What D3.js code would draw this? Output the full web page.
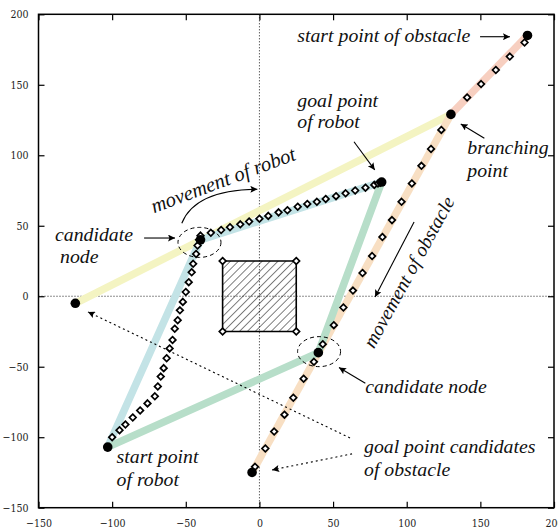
<!DOCTYPE html>
<html>
<head>
<meta charset="utf-8">
<script src="https://cdn.jsdelivr.net/npm/d3@7"></script>
<style>
  body { margin: 0; background: #fff; }
  .tick text { font-family: "DejaVu Serif Condensed", "DejaVu Serif", serif; font-size: 10.5px; fill: #222; }
  .note { font-family: "Liberation Serif", "Times New Roman", serif; font-style: italic; font-size: 19.8px; fill: #111; }
</style>
</head>
<body>
<svg id="chart"></svg>
<script>
let width = 558, height = 529;

// chart values (data units)
let ticks = [-150, -100, -50, 0, 50, 100, 150, 200];
let robotStart = [-103, -107];
let robotGoal = [83, 81];
let obstacleStart = [182, 185];
let branchPoint = [130, 129];
let candidateNodes = [[-40, 40], [40, -40]];
let goalCandidates = [[-125, -5], [-5, -125]];

let yellowBand = [[-125, -5], [130, 129]];
let salmonBand = [[182, 185], [130, 129]];
let peachBand = [[130, 129], [-5, -125]];
let blueBand = [[-103, -107], [-40, 40], [83, 81]];
let greenBand = [[-103, -107], [40, -40], [83, 81]];

let robotTrace = [
  [-100, -100], [-95, -95], [-91, -91], [-86, -86], [-81, -81], [-76, -76], [-71, -71],
  [-69, -64], [-67, -57], [-65, -51], [-63, -44], [-61, -37], [-59, -31], [-57.5, -23],
  [-55.5, -17], [-54, -10], [-52, -4], [-50, 3], [-48, 10], [-46, 17], [-45, 23],
  [-43, 30], [-42, 36], [-41, 40], [-40, 43], [-33, 45], [-26, 47], [-20, 49], [-13, 51],
  [-7, 53], [0, 55], [6, 57], [13, 59.5], [19, 61], [26, 63.5], [32.5, 65.5], [39, 67],
  [45, 69], [52, 71], [58.5, 73], [65, 75], [72, 77], [78, 79], [80.5, 80], [82, 80.5]
];
let obstacleTrace = [
  [180, 180], [170, 170], [160.5, 160.5], [150.5, 150.5], [141, 141],
  [123.5, 118], [116.5, 104.5], [110, 92.5], [103.5, 80], [96.5, 67], [90, 54],
  [83.5, 42], [76.5, 28.5], [70, 16.5], [63.5, 4], [57, -8], [50.5, -20.5],
  [43, -34], [37, -46.5], [30, -58.5], [23, -72], [17, -84], [10, -96], [4, -108], [-3, -121]
];
let obstacleBox = [[-25, -25], [25, -25], [25, 25], [-25, 25]];

let svg = d3.select("#chart")
  .attr("width", width)
  .attr("height", height)
  .attr("viewBox", [0, 0, width, height]);

let x = d3.scaleLinear().domain([-150, 200]).range([38.5, 554]);
let y = d3.scaleLinear().domain([-150, 200]).range([507.7, 14.3]);

let defs = svg.append("defs");

defs.append("marker")
  .attr("id", "head")
  .attr("viewBox", "0 0 10 10")
  .attr("refX", 10).attr("refY", 5)
  .attr("markerWidth", 11).attr("markerHeight", 7)
  .attr("markerUnits", "userSpaceOnUse")
  .attr("orient", "auto")
  .append("path")
  .attr("d", "M0,0 L10,5 L0,10 L2,5 Z")
  .attr("fill", "#000");

let hatch = defs.append("pattern")
  .attr("id", "hatch")
  .attr("patternUnits", "userSpaceOnUse")
  .attr("width", 5.6).attr("height", 5.6)
  .attr("patternTransform", "rotate(45)");
hatch.append("line")
  .attr("x1", 0).attr("y1", 0).attr("x2", 0).attr("y2", 5.6)
  .attr("stroke", "#000").attr("stroke-width", 1);

// zero lines
svg.append("line")
  .attr("x1", x(0)).attr("x2", x(0)).attr("y1", y(200)).attr("y2", y(-150))
  .attr("stroke", "#000").attr("stroke-width", 0.9).attr("stroke-dasharray", "1,2");
svg.append("line")
  .attr("x1", x(-150)).attr("x2", x(200)).attr("y1", y(0)).attr("y2", y(0))
  .attr("stroke", "#000").attr("stroke-width", 0.9).attr("stroke-dasharray", "1,2");

// axes
function styleAxis(g) {
  g.select(".domain").remove();
  g.selectAll(".tick line").attr("stroke", "#000").attr("stroke-width", 1.2);
}
svg.append("g")
  .attr("transform", `translate(${x(-150)},0)`)
  .call(d3.axisLeft(y).tickValues(ticks).tickSize(-6).tickPadding(10))
  .call(styleAxis);
svg.append("g")
  .attr("transform", `translate(0,${y(-150)})`)
  .call(d3.axisBottom(x).tickValues(ticks).tickSize(-6).tickPadding(12))
  .call(styleAxis);
svg.append("g")
  .attr("transform", `translate(${x(200)},0)`)
  .call(d3.axisRight(y).tickValues(ticks).tickSize(-6).tickFormat(""))
  .call(styleAxis);
svg.append("g")
  .attr("transform", `translate(0,${y(200)})`)
  .call(d3.axisTop(x).tickValues(ticks).tickSize(-6).tickFormat(""))
  .call(styleAxis);

svg.append("rect")
  .attr("x", x(-150)).attr("y", y(200))
  .attr("width", x(200) - x(-150)).attr("height", y(-150) - y(200))
  .attr("fill", "none").attr("stroke", "#000").attr("stroke-width", 1.5);

// obstacle box
let line = d3.line().x(d => x(d[0])).y(d => y(d[1]));
svg.append("path")
  .attr("d", line(obstacleBox) + "Z")
  .attr("fill", "url(#hatch)")
  .attr("stroke", "#000").attr("stroke-width", 1.6);

// thick bands
let bands = [
  [yellowBand, "#f4f4c2"],
  [salmonBand, "#f7cfc0"],
  [peachBand, "#f8dfc3"],
  [blueBand, "#c3e3e6"],
  [greenBand, "#b7dec9"]
];
svg.append("g").selectAll("path")
  .data(bands)
  .join("path")
  .attr("d", d => line(d[0]))
  .attr("fill", "none")
  .attr("stroke", d => d[1])
  .attr("stroke-width", 7.5)
  .attr("stroke-linejoin", "round");

// diamonds
let diamond = d3.symbol().type(d3.symbolDiamond2).size(28);
svg.append("g").selectAll("path")
  .data(robotTrace.concat(obstacleTrace, obstacleBox))
  .join("path")
  .attr("transform", d => `translate(${x(d[0])},${y(d[1])})`)
  .attr("d", diamond)
  .attr("fill", "#fff")
  .attr("stroke", "#000")
  .attr("stroke-width", 1.7);

// key points
let dots = [robotStart, robotGoal, obstacleStart, branchPoint].concat(candidateNodes, goalCandidates);
svg.append("g").selectAll("circle")
  .data(dots)
  .join("circle")
  .attr("cx", d => x(d[0]))
  .attr("cy", d => y(d[1]))
  .attr("r", 4.8)
  .attr("fill", "#000");

// dashed ellipses around candidate nodes
svg.append("g").selectAll("ellipse")
  .data([[-40.7, 38.2], [40.5, -39.3]])
  .join("ellipse")
  .attr("cx", d => x(d[0]))
  .attr("cy", d => y(d[1]))
  .attr("rx", 21.5).attr("ry", 15)
  .attr("fill", "none")
  .attr("stroke", "#000")
  .attr("stroke-width", 1)
  .attr("stroke-dasharray", "4,3");

// arrows
let arrows = [
  [[149.8, 184.1], [170.1, 184.1], null],
  [[64.2, 109.6], [78.3, 89.6], null],
  [[152.7, 112.1], [136.7, 122.2], null],
  [[-78.3, 41.3], [-57.3, 41.3], null],
  [[105, 52.7], [78.5, -0.5], null],
  [[71.9, -61.7], [54, -50.6], null],
  [[61.5, -100.5], [-116.4, -11.1], "2,3"],
  [[62.9, -111.8], [8.6, -123.2], "2,3"]
];
svg.append("g").selectAll("path")
  .data(arrows)
  .join("path")
  .attr("d", d => line([d[0], d[1]]))
  .attr("fill", "none")
  .attr("stroke", "#000")
  .attr("stroke-width", 1.1)
  .attr("stroke-dasharray", d => d[2])
  .attr("marker-end", "url(#head)");

// curved arrow for robot movement
let cp = d3.path();
cp.moveTo(x(-52.7), y(51.8));
cp.quadraticCurveTo(x(-43.7), y(75.4), x(-1.4), y(75.9));
svg.append("path")
  .attr("d", cp.toString())
  .attr("fill", "none")
  .attr("stroke", "#000")
  .attr("stroke-width", 1.1)
  .attr("marker-end", "url(#head)");

// annotation texts
let notes = [
  ["start point of obstacle", 25.7, 180.6],
  ["goal point", 25.7, 134.5],
  ["of robot", 25.7, 119.1],
  ["branching", 141.1, 100.9],
  ["point", 141.1, 84.8],
  ["candidate", -138.8, 39.4],
  ["node", -135.4, 23.6],
  ["candidate node", 71.9, -68.8],
  ["goal point candidates", 71, -111.3],
  ["of obstacle", 71, -127.2],
  ["start point", -97, -118.5],
  ["of robot", -97, -134.3]
];
svg.append("g").selectAll("text")
  .data(notes)
  .join("text")
  .attr("class", "note")
  .attr("x", d => x(d[1]))
  .attr("y", d => y(d[2]))
  .text(d => d[0]);

svg.append("text")
  .attr("class", "note")
  .style("font-size", "20.5px")
  .attr("transform", `translate(${x(-71.6)},${y(58.9)}) rotate(-20.6)`)
  .text("movement of robot");

svg.append("text")
  .attr("class", "note")
  .style("font-size", "19.5px")
  .attr("transform", `translate(${x(77.8)},${y(-37.6)}) rotate(-61.3)`)
  .text("movement of obstacle");
</script>
</body>
</html>
